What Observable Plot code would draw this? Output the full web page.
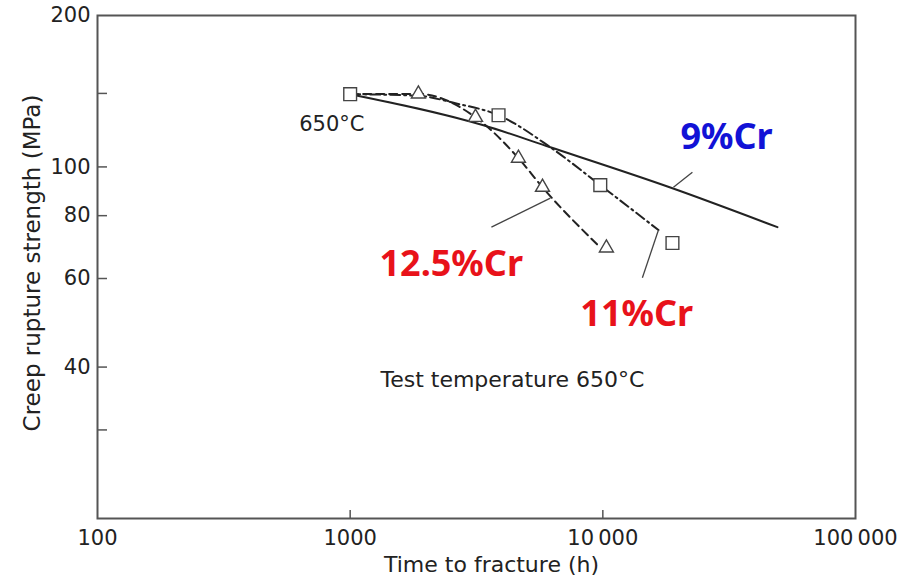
<!DOCTYPE html>
<html>
<head>
<meta charset="utf-8">
<script src="https://cdn.jsdelivr.net/npm/d3@7"></script>
<script src="https://cdn.jsdelivr.net/npm/@observablehq/plot@0.6"></script>
<style>
  body { margin: 0; background: #fff; }
</style>
</head>
<body>
<div id="chart"></div>
<script>
// ---- axis ticks ----
const xTicks = [100, 1000, 10000, 100000];
const xTickLabels = ["100", "1000", "10\u2009000", "100\u2009000"];
const xTickMarks = [1000, 10000];
const yTickValues = [200, 100, 80, 60, 40];
const yTickLabels = ["200", "100", "80", "60", "40"];
const yTickMarks = [140, 100, 80, 60, 40, 30];

// ---- 9%Cr (solid curve) ----
const cr9Time = [1000, 3370, 6200, 18860, 49100];
const cr9Stress = [139.5, 121.0, 109.4, 90.7, 75.9];

// ---- 12.5%Cr (dashed curve, triangles) ----
const cr125LineTime = [1000, 1862, 3133, 4634, 5770, 9530];
const cr125LineStress = [139.5, 139.7, 125.5, 104.1, 91.1, 70.0];
const cr125PointTime = [1862, 3133, 4634, 5770, 10330];
const cr125PointStress = [139.7, 125.5, 104.1, 91.1, 69.0];

// ---- 11%Cr (dash-dot curve, squares) ----
const cr11LineTime = [1000, 1862, 2610, 3866, 6200, 9770, 16600];
const cr11LineStress = [139.5, 138.5, 133.8, 126.7, 109.4, 92.0, 74.9];
const cr11PointTime = [1000, 3866, 9770, 18860];
const cr11PointStress = [139.5, 126.7, 92.0, 70.6];

// ---- series labels and leader lines ----
const seriesNames = ["9%Cr", "12.5%Cr", "11%Cr"];
const seriesColors = ["#1212d6", "#e8121a", "#e8121a"];
const labelTime = [20280, 1306, 8147];
const labelStress = [114.3, 64.1, 51.0];
const leaderTime1 = [19030, 3622, 14340];
const leaderStress1 = [91.1, 75.9, 60.2];
const leaderTime2 = [22620, 6200, 16600];
const leaderStress2 = [97.6, 86.7, 74.9];

// ---- annotations ----
const noteTexts = ["650\u00b0C", "Test temperature 650\u00b0C"];
const noteTime = [1139, 1318];
const noteStress = [121.8, 37.7];
const xTitle = "Time to fracture (h)";
const yTitle = "Creep rupture strength (MPa)";

// ---- tables ----
const toRows = (xs, ys) => xs.map((t, i) => ({time: t, stress: ys[i]}));
const cr9 = toRows(cr9Time, cr9Stress);
const cr125Line = toRows(cr125LineTime, cr125LineStress);
const cr125Pts = toRows(cr125PointTime, cr125PointStress);
const cr11Line = toRows(cr11LineTime, cr11LineStress);
const cr11Pts = toRows(cr11PointTime, cr11PointStress);
const labels = seriesNames.map((n, i) => ({name: n, color: seriesColors[i], time: labelTime[i], stress: labelStress[i]}));
const leaders = seriesNames.map((n, i) => ({x1: leaderTime1[i], y1: leaderStress1[i], x2: leaderTime2[i], y2: leaderStress2[i]}));
const notes = noteTexts.map((t, i) => ({text: t, time: noteTime[i], stress: noteStress[i]}));

const font = "'DejaVu Sans', sans-serif";
const lineColor = "#222";

const chart = Plot.plot({
  width: 917,
  height: 578,
  marginLeft: 97,
  marginRight: 62,
  marginTop: 15,
  marginBottom: 60,
  style: {fontFamily: font, fontSize: "20px", color: "#222", background: "#fff"},
  x: {type: "log", domain: [100, 100000]},
  y: {type: "log", domain: [20, 200]},
  marks: [
    // tick marks (inward)
    Plot.axisY({ticks: yTickMarks, tickSize: 10, dx: 10, fill: "none", stroke: "#555", strokeWidth: 1.5, label: null}),
    Plot.axisX({ticks: xTickMarks, tickSize: 8, dy: -8, fill: "none", stroke: "#555", strokeWidth: 1.5, label: null}),
    // tick labels
    Plot.axisY({ticks: yTickValues, tickFormat: d => yTickLabels[yTickValues.indexOf(d)], tickSize: 0, tickPadding: 7, label: null, fill: "#222", fontSize: 21}),
    Plot.axisX({ticks: xTicks, tickFormat: d => xTickLabels[xTicks.indexOf(d)], tickSize: 0, tickPadding: 12, label: null, fill: "#222", fontSize: 21}),
    Plot.frame({stroke: "#555", strokeWidth: 2}),
    // axis titles
    Plot.text([yTitle], {text: d => d, frameAnchor: "left", rotate: -90, dx: -65, dy: -4, lineAnchor: "middle", textAnchor: "middle", fontSize: 23, fill: "#222"}),
    Plot.text([xTitle], {text: d => d, frameAnchor: "bottom", dx: 15, dy: 46, lineAnchor: "middle", textAnchor: "middle", fontSize: 22, fill: "#222"}),
    // curves
    Plot.line(cr9, {x: "time", y: "stress", curve: "monotone-x", stroke: lineColor, strokeWidth: 2}),
    Plot.line(cr11Line, {x: "time", y: "stress", curve: "monotone-x", stroke: lineColor, strokeWidth: 2, strokeDasharray: "10,4,2,4"}),
    Plot.line(cr125Line, {x: "time", y: "stress", curve: "monotone-x", stroke: lineColor, strokeWidth: 2, strokeDasharray: "8,5"}),
    // leader lines
    Plot.link(leaders, {x1: "x1", y1: "y1", x2: "x2", y2: "y2", stroke: "#444", strokeWidth: 1.3}),
    // markers
    Plot.dot(cr125Pts, {x: "time", y: "stress", symbol: "triangle", r: 5.2, fill: "#fff", stroke: "#444", strokeWidth: 1.4}),
    Plot.dot(cr11Pts, {x: "time", y: "stress", symbol: "square", r: 7.2, fill: "#fff", stroke: "#444", strokeWidth: 1.4}),
    // annotations
    Plot.text(notes.slice(0, 1), {x: "time", y: "stress", text: "text", textAnchor: "end", lineAnchor: "middle", fontSize: 21, fill: "#222"}),
    Plot.text(notes.slice(1), {x: "time", y: "stress", text: "text", textAnchor: "start", lineAnchor: "middle", fontSize: 22, fill: "#222"}),
    Plot.text(labels, {x: "time", y: "stress", text: "name", fill: "color", textAnchor: "start", lineAnchor: "middle", fontSize: 36, fontWeight: "bold", fontFamily: "'Noto Sans', 'Open Sans', sans-serif"})
  ]
});

document.getElementById("chart").appendChild(chart);
</script>
</body>
</html>
